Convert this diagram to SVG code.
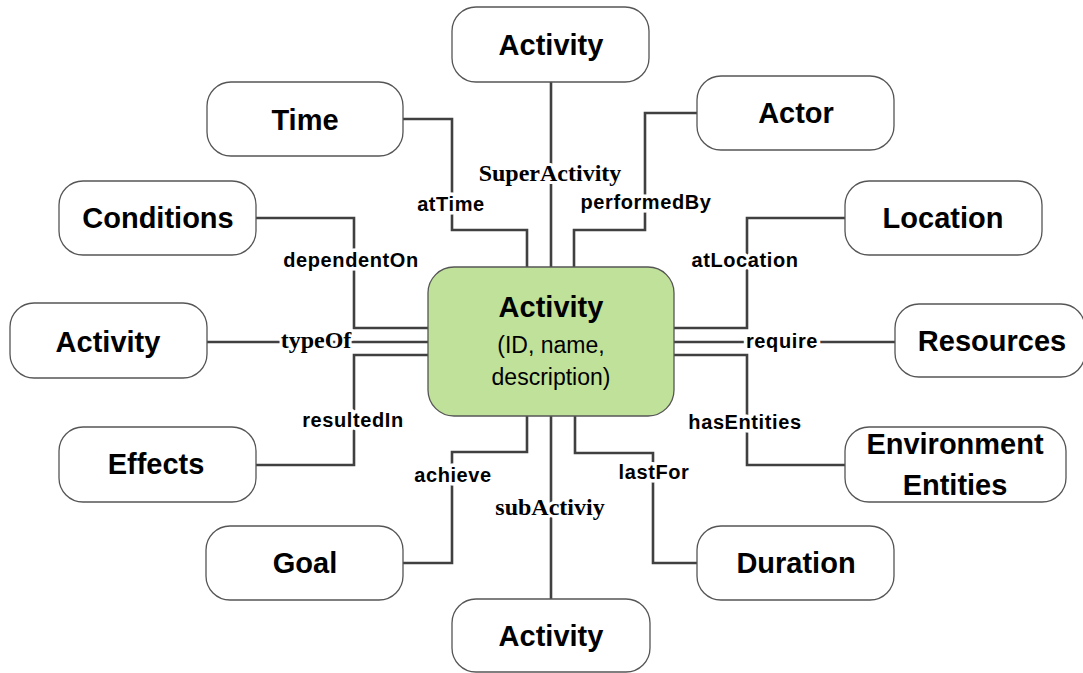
<svg xmlns="http://www.w3.org/2000/svg" width="1083" height="673" viewBox="0 0 1083 673">
<style>
.node rect{fill:#fff;stroke:#555;stroke-width:1.3}
.node text{font-family:"Liberation Sans",Arial,sans-serif;font-weight:bold;font-size:29px;fill:#000;text-anchor:middle}
#center rect{fill:#c0e199;stroke:#555;stroke-width:1.3}
#center .sub{font-weight:normal;font-size:23px}
#connectors path{fill:none;stroke:#404040;stroke-width:2.6}
.lbl{font-family:"Liberation Sans",Arial,sans-serif;font-weight:bold;font-size:20px;letter-spacing:0.6px;fill:#000;text-anchor:middle;stroke:#fff;stroke-width:7;paint-order:stroke;stroke-linejoin:round}
.slbl{font-family:"Liberation Serif","Times New Roman",serif;font-weight:bold;font-size:24px;fill:#000;text-anchor:middle;stroke:#fff;stroke-width:6;paint-order:stroke;stroke-linejoin:round}
</style>
<rect width="1083" height="673" fill="#fff"/>
<g id="connectors">
<path d="M551,82V267"/>
<path d="M403,119H452V230H527V267"/>
<path d="M574,267V230H645V113H697"/>
<path d="M256,218H354V328H428"/>
<path d="M207,342H428"/>
<path d="M428,355H354V465H256"/>
<path d="M527,415V452H452V563H403"/>
<path d="M551,415V599"/>
<path d="M575,415V453H653V563H697"/>
<path d="M674,355H747V465H845"/>
<path d="M674,342H895"/>
<path d="M674,328H747V218H845"/>
<text class="slbl" x="550" y="181">SuperActivity</text>
<text class="lbl" x="451" y="211">atTime</text>
<text class="lbl" x="646" y="209">performedBy</text>
<text class="lbl" x="351" y="267">dependentOn</text>
<text class="slbl" x="316" y="348">typeOf</text>
<text class="lbl" x="353" y="427">resultedIn</text>
<text class="lbl" x="453" y="482">achieve</text>
<text class="slbl" x="550" y="515">subActiviy</text>
<text class="lbl" x="654" y="479">lastFor</text>
<text class="lbl" x="745" y="429">hasEntities</text>
<text class="lbl" x="782" y="348">require</text>
<text class="lbl" x="745" y="267">atLocation</text>
</g>
<g id="center">
<rect x="428" y="267" width="246" height="149" rx="26"/>
<text x="551" y="317" style="font-family:'Liberation Sans',Arial,sans-serif;font-weight:bold;font-size:29px;text-anchor:middle">Activity</text>
<text class="sub" x="551" y="353" style="font-family:'Liberation Sans',Arial,sans-serif;text-anchor:middle">(ID, name,</text>
<text class="sub" x="551" y="385" style="font-family:'Liberation Sans',Arial,sans-serif;text-anchor:middle">description)</text>
</g>
<g id="activity-super" class="node"><rect x="452" y="7" width="197" height="75" rx="24"/><text x="551" y="55">Activity</text></g>
<g id="time" class="node"><rect x="207" y="82" width="196" height="74" rx="24"/><text x="305" y="130">Time</text></g>
<g id="actor" class="node"><rect x="697" y="76" width="197" height="74" rx="24"/><text x="796" y="123">Actor</text></g>
<g id="conditions" class="node"><rect x="59" y="181" width="197" height="74" rx="24"/><text x="158" y="228">Conditions</text></g>
<g id="location" class="node"><rect x="845" y="181" width="197" height="74" rx="24"/><text x="943" y="228">Location</text></g>
<g id="activity-type" class="node"><rect x="10" y="303" width="197" height="75" rx="24"/><text x="108" y="352">Activity</text></g>
<g id="resources" class="node"><rect x="895" y="304" width="190" height="73" rx="24"/><text x="992" y="351">Resources</text></g>
<g id="effects" class="node"><rect x="59" y="427" width="197" height="75" rx="24"/><text x="156" y="474">Effects</text></g>
<g id="environment" class="node"><rect x="845" y="427" width="221" height="75" rx="24"/><text x="955" y="454">Environment</text><text x="955" y="495">Entities</text></g>
<g id="goal" class="node"><rect x="206" y="526" width="197" height="74" rx="24"/><text x="305" y="573">Goal</text></g>
<g id="duration" class="node"><rect x="697" y="526" width="197" height="74" rx="24"/><text x="796" y="573">Duration</text></g>
<g id="activity-sub" class="node"><rect x="452" y="599" width="198" height="73" rx="24"/><text x="551" y="646">Activity</text></g>
</svg>
